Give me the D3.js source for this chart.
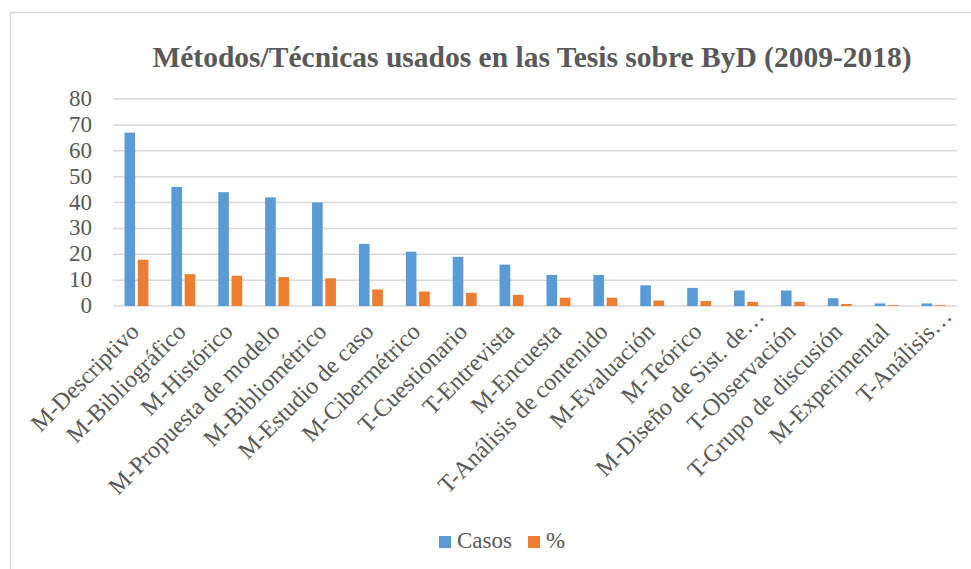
<!DOCTYPE html>
<html>
<head>
<meta charset="utf-8">
<script src="https://cdn.jsdelivr.net/npm/d3@7"></script>
<style>
  body { margin: 0; background: #fff; }
  text { font-family: "Liberation Serif", "Times New Roman", serif; fill: #595959; }
</style>
</head>
<body>
<script>
// data
const categories = [
  "M-Descriptivo", "M-Bibliográfico", "M-Histórico", "M-Propuesta de modelo",
  "M-Bibliométrico", "M-Estudio de caso", "M-Cibermétrico", "T-Cuestionario",
  "T-Entrevista", "M-Encuesta", "T-Análisis de contenido", "M-Evaluación",
  "M-Teórico", "M-Diseño de Sist. de…", "T-Observación", "T-Grupo de discusión",
  "M-Experimental", "T-Análisis…"
];
const casos = [67, 46, 44, 42, 40, 24, 21, 19, 16, 12, 12, 8, 7, 6, 6, 3, 1, 1];
const porcentaje = [17.9, 12.3, 11.7, 11.2, 10.7, 6.4, 5.6, 5.1, 4.3, 3.2, 3.2, 2.1, 1.9, 1.6, 1.6, 0.8, 0.3, 0.3];
const seriesNames = ["Casos", "%"];
const yTicks = [0, 10, 20, 30, 40, 50, 60, 70, 80];
const title = "Métodos/Técnicas usados en las Tesis sobre ByD (2009-2018)";

const colors = { "Casos": "#5B9BD5", "%": "#ED7D31" };
const gridColor = "#d9d9d9";

const width = 971, height = 569;
const plot = { left: 113, right: 957, top: 99, bottom: 306 };

const svg = d3.select("body").append("svg")
  .attr("width", width)
  .attr("height", height);

// chart frame
svg.append("rect")
  .attr("x", 10.5).attr("y", 12.5)
  .attr("width", width).attr("height", height)
  .attr("fill", "none")
  .attr("stroke", gridColor)
  .attr("stroke-width", 1.5);

svg.append("text")
  .attr("x", 532).attr("y", 67)
  .attr("text-anchor", "middle")
  .style("font-size", "29.5px")
  .style("font-weight", "bold")
  .text(title);

const x0 = d3.scaleBand()
  .domain(categories)
  .range([plot.left, plot.right])
  .paddingInner(0.49)
  .paddingOuter(0.245);

const x1 = d3.scaleBand()
  .domain(seriesNames)
  .range([0, x0.bandwidth()])
  .paddingInner(0.2);

const y = d3.scaleLinear().domain([0, 80]).range([plot.bottom, plot.top]);

// gridlines
svg.append("g")
  .selectAll("line")
  .data(yTicks)
  .enter()
  .append("line")
  .attr("x1", plot.left).attr("x2", plot.right)
  .attr("y1", (d) => y(d)).attr("y2", (d) => y(d))
  .attr("stroke", gridColor)
  .attr("stroke-width", 1.5);

// y labels
svg.append("g")
  .selectAll("text")
  .data(yTicks)
  .enter()
  .append("text")
  .attr("x", 92)
  .attr("y", (d) => y(d) - 1)
  .attr("dy", "0.35em")
  .attr("text-anchor", "end")
  .style("font-size", "23px")
  .text((d) => d);

// bars
const rows = categories.map((c, i) => ({ cat: c, values: [casos[i], porcentaje[i]] }));

const group = svg.append("g")
  .selectAll("g")
  .data(rows)
  .enter()
  .append("g")
  .attr("transform", (d) => `translate(${x0(d.cat)},0)`);

group.selectAll("rect")
  .data((d) => d.values.map((v, k) => ({ key: seriesNames[k], v })))
  .enter()
  .append("rect")
  .attr("x", (d) => x1(d.key))
  .attr("width", x1.bandwidth())
  .attr("y", (d) => y(d.v))
  .attr("height", (d) => y(0) - y(d.v))
  .attr("fill", (d) => colors[d.key]);

// category labels, rotated
svg.append("g")
  .selectAll("text")
  .data(categories)
  .enter()
  .append("text")
  .attr("transform", (d) => {
    const cx = x0(d) + x0.bandwidth() / 2;
    return `translate(${cx + 4},${333}) rotate(-45)`;
  })
  .attr("dx", (d) => (d.endsWith("…") ? 22 : 0))
  .attr("text-anchor", "end")
  .style("font-size", "24px")
  .text((d) => d);

// legend
const legend = svg.append("g").attr("transform", "translate(439,536)");
const legendX = [0, 89];
const items = legend.selectAll("g")
  .data(seriesNames)
  .enter()
  .append("g")
  .attr("transform", (_, i) => `translate(${legendX[i]},0)`);

items.append("rect")
  .attr("width", 12).attr("height", 12)
  .attr("fill", (d) => colors[d]);

items.append("text")
  .attr("x", 18).attr("y", 12)
  .style("font-size", "23px")
  .text((d) => d);
</script>
</body>
</html>
